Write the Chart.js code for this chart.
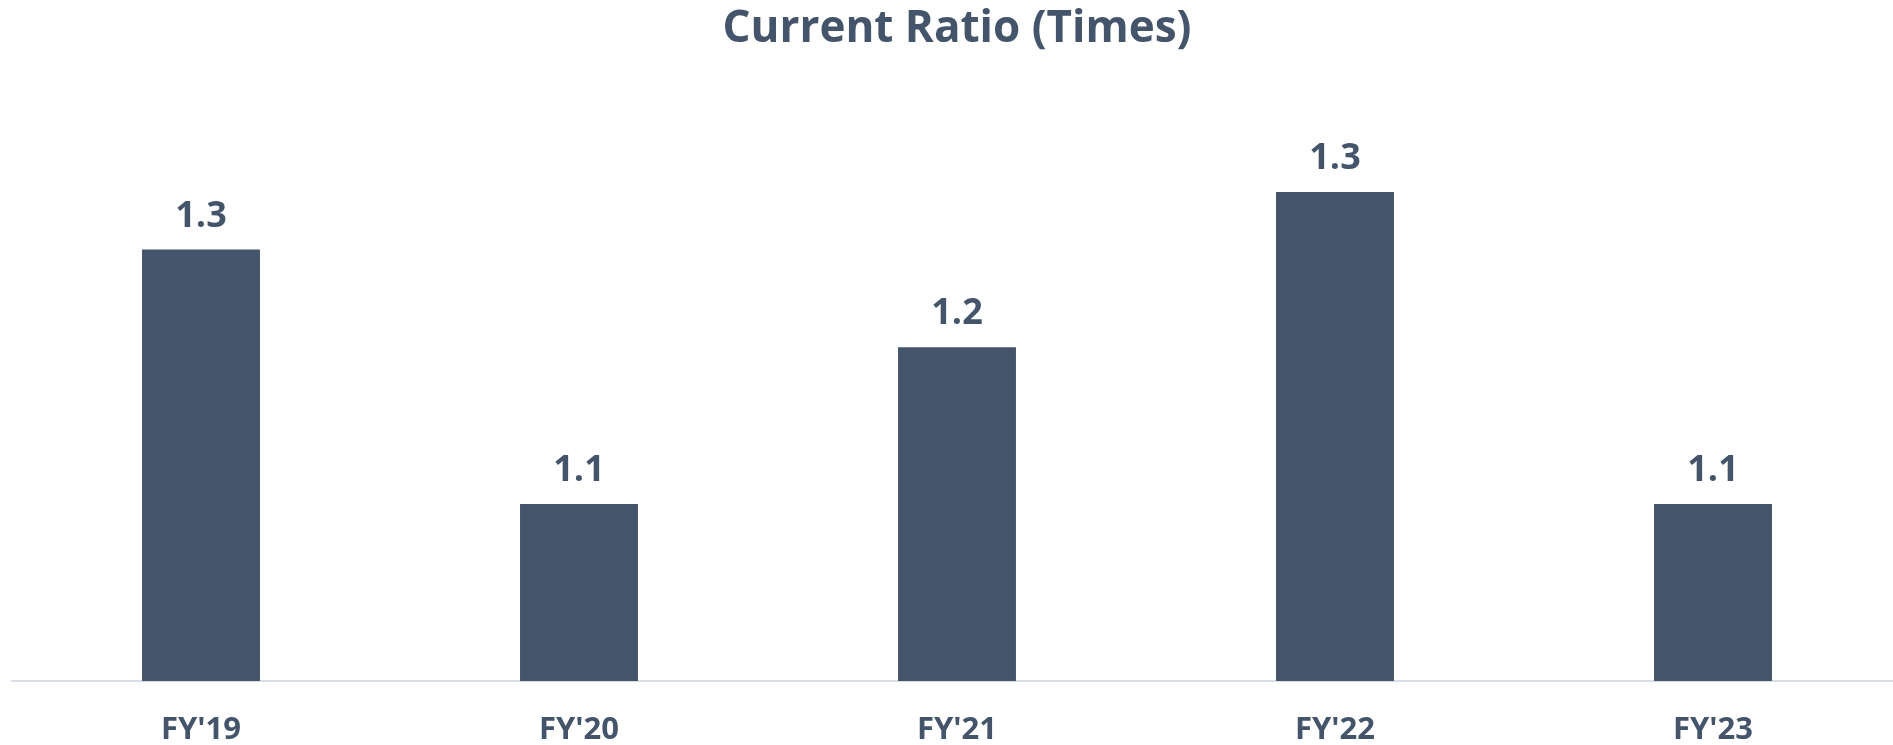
<!DOCTYPE html>
<html>
<head>
<meta charset="utf-8">
<title>Current Ratio (Times)</title>
<script src="https://cdn.jsdelivr.net/npm/chart.js@4/dist/chart.umd.min.js"></script>
<style>
  html, body { margin: 0; padding: 0; background: #ffffff; overflow: hidden; }
  #wrap { width: 1915px; height: 745px; }
</style>
</head>
<body>
<div id="wrap"><canvas id="chart" width="1915" height="745"></canvas></div>
<script>
// Fiscal years and current ratio values
const categories = ["FY'19", "FY'20", "FY'21", "FY'22", "FY'23"];
const currentRatio = [1.278, 1.114, 1.215, 1.315, 1.114];
const chartTitle = 'Current Ratio (Times)';

const INK = '#44546A';
const FONT = '"Open Sans", "Noto Sans", sans-serif';

// Value labels above each bar, one decimal place
const barValueLabels = {
  id: 'barValueLabels',
  afterDatasetsDraw(chart) {
    const ctx = chart.ctx;
    const meta = chart.getDatasetMeta(0);
    const values = chart.data.datasets[0].data;
    ctx.save();
    ctx.fillStyle = INK;
    ctx.font = 'bold 36px ' + FONT;
    ctx.textAlign = 'center';
    ctx.textBaseline = 'alphabetic';
    meta.data.forEach((bar, i) => {
      ctx.fillText(values[i].toFixed(1), bar.x, bar.y - 23);
    });
    ctx.restore();
  }
};

new Chart(document.getElementById('chart'), {
  type: 'bar',
  data: {
    labels: categories,
    datasets: [{
      data: currentRatio,
      backgroundColor: INK,
      borderWidth: 0,
      categoryPercentage: 1,
      barPercentage: 0.312
    }]
  },
  options: {
    responsive: false,
    animation: false,
    devicePixelRatio: 1,
    layout: { padding: { left: 12, right: 13, top: 0, bottom: 0 } },
    plugins: {
      legend: { display: false },
      tooltip: { enabled: false },
      title: {
        display: true,
        text: chartTitle,
        color: INK,
        font: { family: FONT, size: 44, weight: 'bold' },
        padding: { top: 3, bottom: 82 }
      }
    },
    scales: {
      x: {
        grid: { display: false, drawTicks: false },
        border: { display: true, color: '#D9DEE6', width: 2 },
        ticks: {
          color: INK,
          font: { family: FONT, size: 31, weight: 'bold' },
          padding: 31
        },
        // keep the category band a fixed height below the baseline
        afterFit(scale) { scale.height = 64; }
      },
      y: {
        display: false,
        min: 1.0,
        max: 1.35
      }
    }
  },
  plugins: [barValueLabels]
});
</script>
</body>
</html>
